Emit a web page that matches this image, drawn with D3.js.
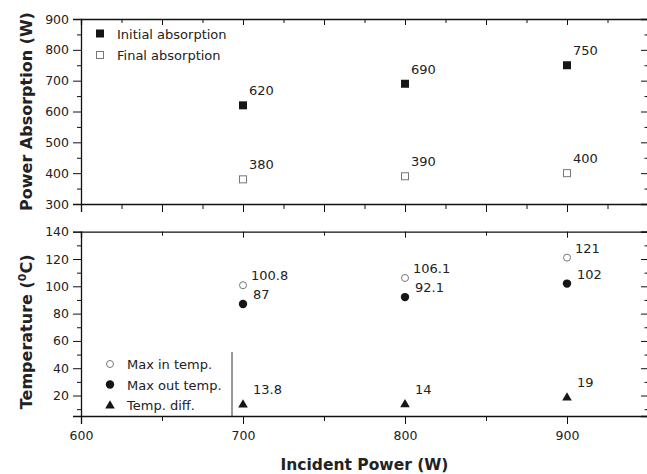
<!DOCTYPE html>
<html>
<head>
<meta charset="utf-8">
<script src="https://cdn.jsdelivr.net/npm/d3@7"></script>
<style>
  body { margin: 0; background: #fff; }
  svg { display: block; font-family: "DejaVu Sans", Verdana, sans-serif; }
  .axis path, .axis line { stroke: #111; }
</style>
</head>
<body>
<script>
// data
const incidentPower = [700, 800, 900];
const initialAbsorption = [620, 690, 750];
const finalAbsorption = [380, 390, 400];
const maxInTemp = [100.8, 106.1, 121];
const maxOutTemp = [87, 92.1, 102];
const tempDiff = [13.8, 14, 19];

const xTickLabels = [600, 700, 800, 900];
const absTicks = [300, 400, 500, 600, 700, 800, 900];
const tempTicks = [20, 40, 60, 80, 100, 120, 140];

const width = 647, height = 474;

const svg = d3.select("body")
    .append("svg")
    .attr("width", width)
    .attr("height", height);

const x = d3.scaleLinear().domain([600, 950]).range([81, 648]);
const yTop = d3.scaleLinear().domain([300, 900]).range([204, 19]);
const yBot = d3.scaleLinear().domain([5, 140]).range([416, 231.7]);

// draws the 4 sides of one panel, ticks like the origin style
function drawFrame(y, yMajor, yMinor, xMajor, xMinor, showXLabels) {
    const [x0, x1] = x.range();
    const [yb, yt] = y.range();

    const addAxis = (axis, transform, cls) => {
        const g = svg.append("g").attr("class", "axis " + cls)
            .attr("transform", transform).call(axis);
        g.select(".domain").attr("stroke-width", 1.3);
        return g;
    };

    // left, outward
    const left = addAxis(d3.axisLeft(y).tickValues(yMajor).tickSize(8).tickPadding(4), `translate(${x0},0)`, "left");
    left.selectAll("text").attr("font-size", 12.5).attr("fill", "#222")
        .attr("font-family", "DejaVu Sans, sans-serif");
    addAxis(d3.axisLeft(y).tickValues(yMinor).tickSize(4).tickFormat(""), `translate(${x0},0)`, "left-minor")
        .select(".domain").remove();

    // right, inward
    addAxis(d3.axisLeft(y).tickValues(yMajor).tickSize(7).tickFormat(""), `translate(${x1},0)`, "right");
    addAxis(d3.axisLeft(y).tickValues(yMinor).tickSize(3.5).tickFormat(""), `translate(${x1},0)`, "right-minor")
        .select(".domain").remove();

    // top, inward
    addAxis(d3.axisBottom(x).tickValues(xMajor).tickSize(6).tickFormat(""), `translate(0,${yt})`, "top");
    addAxis(d3.axisBottom(x).tickValues(xMinor).tickSize(4).tickFormat(""), `translate(0,${yt})`, "top-minor")
        .select(".domain").remove();

    // bottom, outward
    const bottom = addAxis(d3.axisBottom(x).tickValues(xMajor).tickSize(8).tickPadding(7)
        .tickFormat(showXLabels ? (d => xTickLabels.includes(d) ? d : "") : ""), `translate(0,${yb})`, "bottom");
    bottom.selectAll("text").attr("font-size", 12.5).attr("fill", "#222")
        .attr("font-family", "DejaVu Sans, sans-serif");
    addAxis(d3.axisBottom(x).tickValues(xMinor).tickSize(5).tickFormat(""), `translate(0,${yb})`, "bottom-minor")
        .select(".domain").remove();
}

drawFrame(yTop, absTicks, [350, 450, 550, 650, 750, 850],
    [650, 700, 750, 800, 850, 900], [625, 675, 725, 775, 825, 875, 925], false);
drawFrame(yBot, tempTicks, [10, 30, 50, 70, 90, 110, 130],
    [600, 700, 800, 900], [650, 750, 850], true);

// marker shapes
const ink = "#161616";
function marker(g, kind, cx, cy) {
    if (kind === "fsquare") {
        g.append("rect").attr("x", cx - 4).attr("y", cy - 4).attr("width", 8).attr("height", 8).attr("fill", ink);
    } else if (kind === "osquare") {
        g.append("rect").attr("x", cx - 3.5).attr("y", cy - 3.5).attr("width", 7).attr("height", 7)
            .attr("fill", "none").attr("stroke", "#777").attr("stroke-width", 1);
    } else if (kind === "ocircle") {
        g.append("circle").attr("cx", cx).attr("cy", cy).attr("r", 3.5)
            .attr("fill", "none").attr("stroke", "#777").attr("stroke-width", 1);
    } else if (kind === "fcircle") {
        g.append("circle").attr("cx", cx).attr("cy", cy).attr("r", 4.2).attr("fill", ink);
    } else if (kind === "triangle") {
        g.append("path").attr("d", d3.symbol(d3.symbolTriangle, 40)()).attr("transform", `translate(${cx},${cy + 0.8})`)
            .attr("fill", ink);
    }
}

const series = [
    { values: initialAbsorption, y: yTop, kind: "fsquare", dx: 6, dy: -10 },
    { values: finalAbsorption, y: yTop, kind: "osquare", dx: 6, dy: -10.5 },
    { values: maxInTemp, y: yBot, kind: "ocircle", dx: 8, dy: -5 },
    { values: maxOutTemp, y: yBot, kind: "fcircle", dx: 10, dy: -5 },
    { values: tempDiff, y: yBot, kind: "triangle", dx: 10, dy: -10 }
];

series.forEach(s => {
    const g = svg.append("g");
    s.values.forEach((v, i) => {
        const cx = x(incidentPower[i]), cy = s.y(v);
        marker(g, s.kind, cx, cy);
        g.append("text")
            .attr("x", cx + s.dx)
            .attr("y", cy + s.dy)
            .attr("font-size", 13)
            .attr("fill", "#222")
            .text(v);
    });
});

// legends
function legend(items, lx, ly, step) {
    const g = svg.append("g").attr("transform", `translate(${lx},${ly})`);
    items.forEach((it, i) => {
        marker(g, it.kind, 0, i * step);
        g.append("text").attr("x", 17).attr("y", i * step + 5)
            .attr("font-size", 13).attr("fill", "#222").text(it.label);
    });
    return g;
}

legend([
    { kind: "fsquare", label: "Initial absorption" },
    { kind: "osquare", label: "Final absorption" }
], 100, 33.5, 21.5);

legend([
    { kind: "ocircle", label: "Max in temp." },
    { kind: "fcircle", label: "Max out temp." },
    { kind: "triangle", label: "Temp. diff." }
], 110, 364, 20.5);

// right edge of the legend frame in the lower panel
svg.append("line")
    .attr("x1", 232).attr("x2", 232)
    .attr("y1", 352).attr("y2", yBot.range()[0])
    .attr("stroke", "#333").attr("stroke-width", 1);

// axis titles
svg.append("text")
    .attr("x", (x.range()[0] + 648) / 2)
    .attr("y", 470)
    .attr("text-anchor", "middle")
    .attr("font-size", 15.5)
    .attr("font-weight", "bold")
    .attr("fill", "#222")
    .text("Incident Power (W)");

svg.append("text")
    .attr("transform", `translate(32,${(yTop.range()[0] + yTop.range()[1]) / 2}) rotate(-90)`)
    .attr("text-anchor", "middle")
    .attr("font-size", 16)
    .attr("font-weight", "bold")
    .attr("fill", "#222")
    .text("Power Absorption (W)");

const tTitle = svg.append("text")
    .attr("transform", `translate(32,${(yBot.range()[0] + yBot.range()[1]) / 2 + 8}) rotate(-90)`)
    .attr("text-anchor", "middle")
    .attr("font-size", 16)
    .attr("font-weight", "bold")
    .attr("fill", "#222");
tTitle.append("tspan").text("Temperature (");
tTitle.append("tspan").attr("dy", -6).attr("font-size", 11).text("0");
tTitle.append("tspan").attr("dy", 6).text("C)");
</script>
</body>
</html>
